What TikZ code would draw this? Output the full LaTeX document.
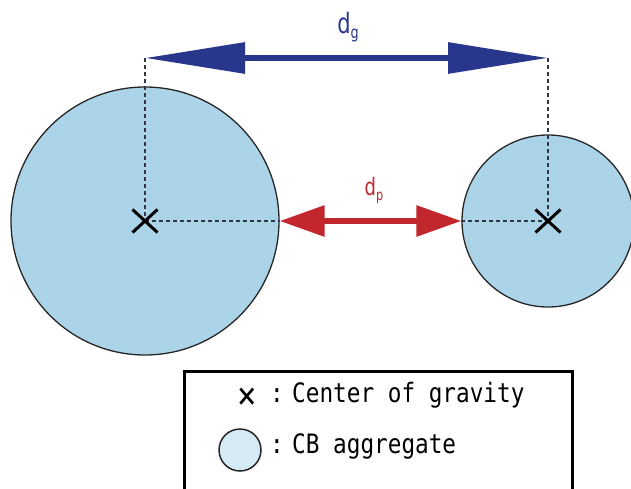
\documentclass[tikz,border=0pt]{standalone}
\usepackage{fontspec}
\usetikzlibrary{arrows.meta,shapes.misc}
\newfontfamily\gothic[FakeStretch=0.85]{DejaVu Sans Mono}
\newfontfamily\labfont[FakeStretch=0.75]{DejaVu Sans}
\definecolor{cbfill}{RGB}{172,212,232}
\definecolor{cblight}{RGB}{214,234,245}
\definecolor{dgblue}{RGB}{40,54,140}
\definecolor{dpred}{RGB}{193,39,45}
\definecolor{dashgray}{RGB}{50,55,70}
\tikzset{
  aggregate/.style={circle, draw=black!85, fill=cbfill, line width=1.3pt, inner sep=0pt},
  gravity/.style={cross out, draw=black, line width=3pt, minimum width=22pt, minimum height=20pt, inner sep=0pt},
  dashline/.style={draw=dashgray, line width=1.1pt, dash pattern=on 4pt off 3pt},
  bigarrow/.style={line width=6pt, {Triangle[length=100pt,width=30pt]}-{Triangle[length=100pt,width=30pt]}},
  smallarrow/.style={line width=6pt, {Triangle[length=45pt,width=30pt]}-{Triangle[length=45pt,width=30pt]}},
  legtext/.style={font=\gothic\fontsize{26.7}{30}\selectfont, inner sep=0pt, anchor=base west},
}
\begin{document}
\begin{tikzpicture}[x=1pt,y=-1pt]
\useasboundingbox (0,0) rectangle (631,489);
% aggregates
\node[aggregate, minimum size=268pt] (big) at (145,221) {};
\node[aggregate, minimum size=172pt] (small) at (548,221) {};
% centres
\coordinate (gL) at (145,221);
\coordinate (gR) at (548,221);
\coordinate (tL) at (145,58);
\coordinate (tR) at (548,58);
% dashed guides
\draw[dashline] (tL) -- (gL);
\draw[dashline] (tR) -- (gR);
\draw[dashline] (gL) -- (big.east);
\draw[dashline] (small.west) -- (gR);
\node[gravity] (xL) at (gL) {};
\node[gravity] (xR) at (gR) {};
% arrows
\draw[bigarrow, draw=dgblue, fill=dgblue] (tL) -- (tR);
\draw[smallarrow, draw=dpred, fill=dpred] (big.east) -- (small.west);
% labels
\node[text=dgblue, inner sep=0pt, anchor=base] (lg) at (348,34)
  {\labfont\fontsize{28}{28}\selectfont d\raisebox{-5pt}{\fontsize{17}{17}\selectfont g}};
\node[text=dpred, inner sep=0pt, anchor=base] (lp) at (374,195)
  {\labfont\fontsize{24}{24}\selectfont d\raisebox{-5pt}{\fontsize{15}{15}\selectfont p}};
% legend
\draw[line width=3pt] (184,500) -- (184,371) -- (572,371) -- (572,500);
\node[font=\gothic\fontsize{38}{38}\selectfont, inner sep=0pt] (lx) at (247,398) {×};
\node[legtext, anchor=base] (c1) at (277,402) {:};
\node[legtext] (t1) at (292,402) {Center of gravity};
\node[aggregate, fill=cblight, minimum size=42pt, line width=1.5pt] (lc) at (240,450) {};
\node[legtext, anchor=base] (c2) at (277,453) {:};
\node[legtext] (t2) at (292,453) {CB aggregate};
\end{tikzpicture}
\end{document}
